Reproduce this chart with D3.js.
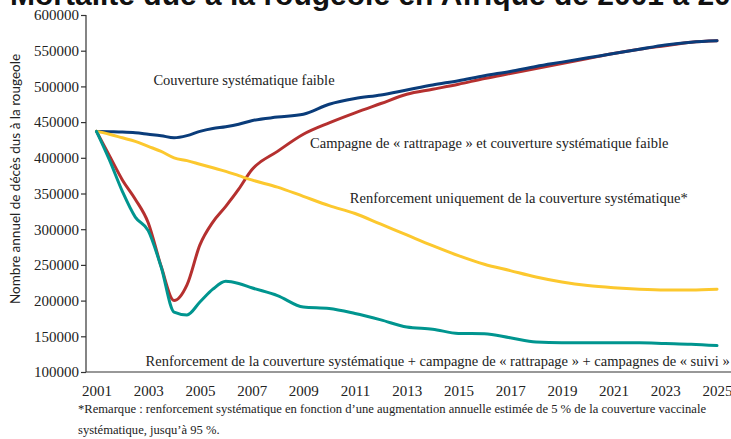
<!DOCTYPE html>
<html>
<head>
<meta charset="utf-8">
<script src="https://cdn.jsdelivr.net/npm/d3@7"></script>
<style>
  html, body { margin: 0; padding: 0; background: #ffffff; }
  svg { display: block; }
</style>
</head>
<body>
<svg id="chart" width="731" height="439"></svg>
<script>
// Projected annual measles deaths in Africa, 2001–2025, under four strategies.
const years = [2001, 2001.5, 2002, 2002.5, 2003, 2003.5, 2004, 2004.5, 2005, 2005.5, 2006, 2006.5,
  2007, 2008, 2009, 2010, 2011, 2012, 2013, 2014, 2015, 2016, 2017, 2018, 2019, 2020,
  2021, 2022, 2023, 2024, 2025];

// Low routine coverage
const lowRoutine = [437000, 436500, 436000, 435000, 433000, 431000, 428000, 431000, 437000, 441000, 443500, 447000,
  452000, 457000, 461000, 475000, 483000, 488000, 495000, 502000, 508000, 515000, 521000, 528000, 534000, 540000,
  546000, 552000, 558000, 562000, 564000];

// Catch-up campaign + low routine coverage
const catchUpLow = [437000, 403000, 369000, 342000, 309000, 248000, 200000, 222000, 278000, 310000, 332000, 356000,
  383000, 409000, 433000, 449000, 463000, 476000, 489000, 496000, 503000, 511000, 518000, 525000, 532000, 539000,
  546000, 552000, 557000, 562000, 564000];

// Routine coverage strengthening only
const routineOnly = [437000, 433000, 428000, 423000, 416000, 409000, 400000, 396000, 391000, 386000, 381000, 375000,
  369000, 359000, 346000, 333000, 322000, 307000, 292000, 277000, 263000, 251000, 242000, 233000, 226000, 221000,
  218000, 216000, 215000, 215000, 216000];

// Routine strengthening + catch-up + follow-up campaigns
const fullStrategy = [437000, 397000, 353000, 317000, 298000, 247000, 184000, 180000, 198000, 216000, 227000, 224000,
  218000, 207000, 191000, 189000, 182000, 173000, 163000, 160000, 154000, 153500, 148000, 142000, 141000, 141000,
  141000, 141000, 140000, 139000, 137000];

const yTicks = [100000, 150000, 200000, 250000, 300000, 350000, 400000, 450000, 500000, 550000, 600000];
const xTicks = [2001, 2003, 2005, 2007, 2009, 2011, 2013, 2015, 2017, 2019, 2021, 2023, 2025];

const titleText = "Mortalité due à la rougeole en Afrique de 2001 à 2025";
const yTitle = "Nombre annuel de décès dus à la rougeole";
const footnote = [
  "*Remarque : renforcement systématique en fonction d’une augmentation annuelle estimée de 5 % de la couverture vaccinale",
  "systématique, jusqu’à 95 %."
];

const series = [
  { name: "Campagne de « rattrapage » et couverture systématique faible", values: catchUpLow, color: "#b5302f",
    label: { x: 2009.26, y: 414000 } },
  { name: "Couverture systématique faible", values: lowRoutine, color: "#0a3c7a",
    label: { x: 2003.2, y: 502000 } },
  { name: "Renforcement uniquement de la couverture systématique*", values: routineOnly, color: "#fcc82e",
    label: { x: 2010.8, y: 336000 } },
  { name: "Renforcement de la couverture systématique + campagne de « rattrapage »  + campagnes de « suivi »",
    values: fullStrategy, color: "#00958f", label: { x: 2002.9, y: 108000 } }
];

const svg = d3.select("#chart");
const serif = "'Liberation Serif', 'Times New Roman', serif";

const x = d3.scaleLinear().domain([2001, 2025]).range([96.5, 717]);
const y = d3.scaleLinear().domain([100000, 600000]).range([372, 15]);
const axisX = 86;

// Title (runs past the top edge)
svg.append("text")
  .attr("x", 10).attr("y", 5)
  .attr("font-family", "'Liberation Sans', Arial, sans-serif")
  .attr("font-weight", "bold")
  .attr("font-size", 30)
  .attr("fill", "#111")
  .text(titleText);

// Y axis
const yAxis = d3.axisLeft(y).tickValues(yTicks).tickSize(5).tickPadding(2).tickFormat(d3.format("d"));
const gy = svg.append("g").attr("transform", `translate(${axisX},0)`).call(yAxis);
gy.select(".domain").attr("stroke", "#333").attr("stroke-width", 1.2).attr("d", `M0,${y(600000)}V${y(100000)}`);
gy.selectAll(".tick line").attr("stroke", "#333").attr("stroke-width", 1.2);
gy.selectAll(".tick text").attr("font-family", serif).attr("font-size", 15).attr("fill", "#222");

// X axis
const xAxis = d3.axisBottom(x).tickValues(xTicks).tickSize(0).tickPadding(13).tickFormat(d3.format("d"));
const gx = svg.append("g").attr("transform", `translate(0,${y(100000)})`).call(xAxis);
gx.select(".domain").attr("stroke", "#333").attr("stroke-width", 1.2).attr("d", `M${axisX},0H731`);
gx.selectAll(".tick text").attr("font-family", serif).attr("font-size", 15).attr("fill", "#222");

// Y axis title
svg.append("text")
  .attr("transform", `translate(20,${(58 + 300) / 2}) rotate(-90)`)
  .attr("text-anchor", "middle")
  .attr("font-family", "Lato, 'Open Sans', sans-serif")
  .attr("font-size", 13.5)
  .attr("fill", "#222")
  .text(yTitle);

// Lines
const line = d3.line()
  .x((d, i) => x(years[i]))
  .y(d => y(d))
  .curve(d3.curveMonotoneX);

svg.append("g").selectAll("path")
  .data(series)
  .join("path")
  .attr("d", s => line(s.values))
  .attr("fill", "none")
  .attr("stroke", s => s.color)
  .attr("stroke-width", 3)
  .attr("stroke-linejoin", "round")
  .attr("stroke-linecap", "round");

// Series labels
svg.append("g").selectAll("text")
  .data(series)
  .join("text")
  .attr("x", s => x(s.label.x))
  .attr("y", s => y(s.label.y))
  .attr("font-family", serif)
  .attr("font-size", 14.5)
  .attr("fill", "#222")
  .text(s => s.name);

// Footnote
svg.append("g").selectAll("text")
  .data(footnote)
  .join("text")
  .attr("x", 78)
  .attr("y", (d, i) => 413 + i * 21)
  .attr("font-family", serif)
  .attr("font-size", 12.6)
  .attr("fill", "#222")
  .text(d => d);
</script>
</body>
</html>
